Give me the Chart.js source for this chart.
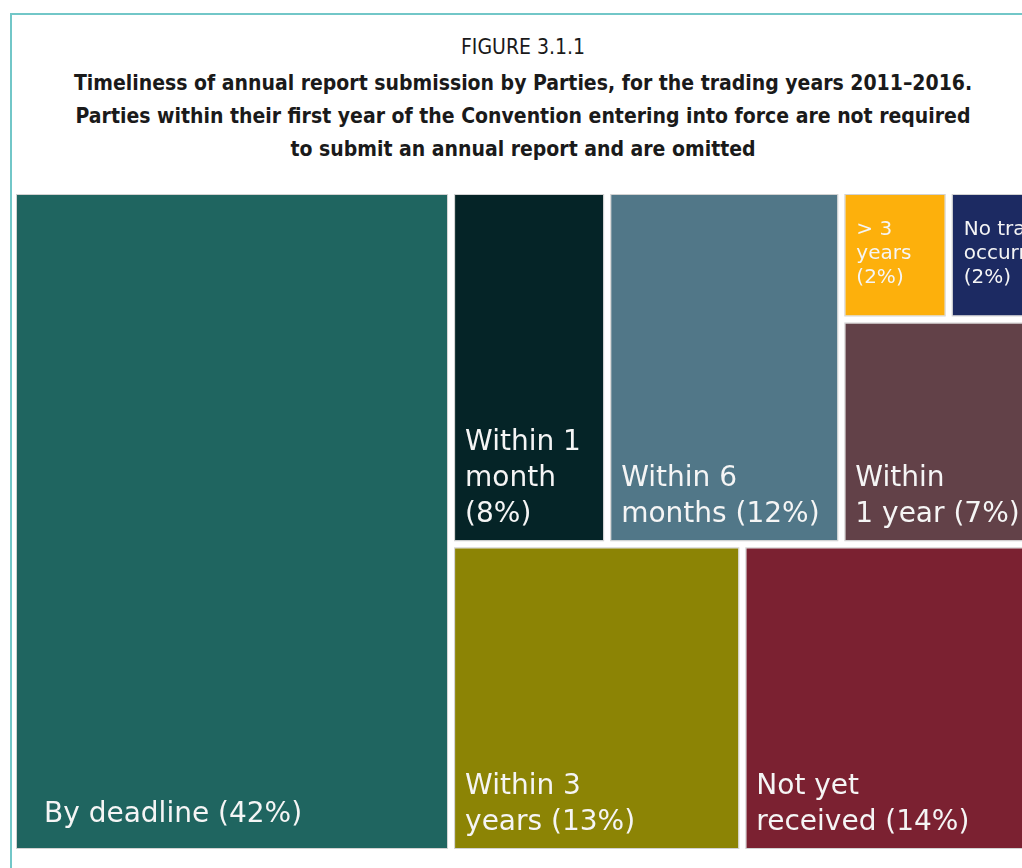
<!DOCTYPE html>
<html>
<head>
<meta charset="utf-8">
<script src="https://cdn.jsdelivr.net/npm/chart.js@4"></script>
<style>
  html, body { margin: 0; padding: 0; background: #fff; overflow: hidden; }
  body { width: 1022px; height: 868px; position: relative; }
  #frame {
    position: absolute; left: 10px; top: 13px; width: 1100px; height: 900px;
    border-left: 2px solid #72c7c8; border-top: 2px solid #72c7c8;
  }
  #title {
    position: absolute; left: 10px; top: 33px; width: 1026px; text-align: center;
    font-family: "Liberation Sans Narrow", "DejaVu Sans Condensed", "Open Sans", sans-serif;
    font-stretch: condensed; color: #1a1a1a;
  }
  #title .fig { font-size: 21px; line-height: 28px; }
  #title .main { font-size: 21px; line-height: 33px; font-weight: bold; margin-top: 6px; }
  #wrap { position: absolute; left: 0; top: 0; width: 1070px; height: 868px; }
</style>
</head>
<body>
<div id="frame"></div>
<div id="title">
  <div class="fig">FIGURE 3.1.1</div>
  <div class="main">Timeliness of annual report submission by Parties, for the trading years 2011–2016.<br>
  Parties within their first year of the Convention entering into force are not required<br>
  to submit an annual report and are omitted</div>
</div>
<div id="wrap"><canvas id="treemap"></canvas></div>
<script>
// Submission timeliness categories and their share of reports (%)
const categories = [
  "By deadline",
  "Within 1 month",
  "Within 6 months",
  "> 3 years",
  "No trade occurred",
  "Within 1 year",
  "Within 3 years",
  "Not yet received",
];
const shares = [42, 8, 12, 2, 2, 7, 13, 14];

// words per line for each tile label (label = category + " (share%)")
const labelWrap = [[3], [2, 1, 1], [2, 2], [2, 1, 1], [2, 1, 1], [1, 3], [2, 2], [2, 2]];

const colors = [
  "#1f6560", // By deadline
  "#052427", // Within 1 month
  "#517788", // Within 6 months
  "#fdb00c", // > 3 years
  "#1c2a62", // No trade occurred
  "#624148", // Within 1 year
  "#8c8405", // Within 3 years
  "#7b2131", // Not yet received
];

// the wide first tile sets its label further in from the corner
const labelOffset = { 0: { x: 27, bottom: 26 } };

// Tile arrangement: "x" splits side by side, "y" stacks top to bottom.
// Leaves are indexes into categories; sizes come from shares.
const arrangement = ["x", [
  0,
  ["y", [
    ["x", [1, 2, ["y", [["x", [3, 4]], 5]]]],
    ["x", [6, 7]],
  ]],
]];

function nodeWeight(node) {
  if (typeof node === "number") return shares[node];
  return node[1].reduce((sum, child) => sum + nodeWeight(child), 0);
}

// Slice a rectangle (in value units 0..100) among the children by weight
function layout(node, x0, y0, x1, y1, out) {
  if (typeof node === "number") {
    out.push({ x: (x0 + x1) / 2, y: (y0 + y1) / 2, x0, y0, x1, y1, i: node });
    return out;
  }
  const dir = node[0];
  const total = nodeWeight(node);
  let pos = dir === "x" ? x0 : y0;
  node[1].forEach((child) => {
    const frac = nodeWeight(child) / total;
    if (dir === "x") {
      const w = (x1 - x0) * frac;
      layout(child, pos, y0, pos + w, y1, out);
      pos += w;
    } else {
      const h = (y1 - y0) * frac;
      layout(child, x0, pos, x1, pos + h, out);
      pos += h;
    }
  });
  return out;
}

const tiles = layout(arrangement, 0, 0, 100, 100, []);

function labelLines(i) {
  const words = (categories[i] + " (" + shares[i] + "%)").split(" ");
  const lines = [];
  let k = 0;
  labelWrap[i].forEach((n) => {
    lines.push(words.slice(k, k + n).join(" "));
    k += n;
  });
  return lines;
}

// Draws each tile as a rectangle through the x/y scales, with its label
const treemapTiles = {
  id: "treemapTiles",
  afterDatasetsDraw(chart) {
    const ctx = chart.ctx;
    const xs = chart.scales.x;
    const ys = chart.scales.y;
    const gap = 4;
    chart.data.datasets[0].data.forEach((t) => {
      const left = xs.getPixelForValue(t.x0) + gap;
      const right = xs.getPixelForValue(t.x1) - gap;
      const top = ys.getPixelForValue(t.y0) + gap;
      const bottom = ys.getPixelForValue(t.y1) - gap;
      ctx.save();
      ctx.fillStyle = colors[t.i];
      ctx.fillRect(left, top, right - left, bottom - top);
      ctx.strokeStyle = "#d2d2d2";
      ctx.lineWidth = 1;
      ctx.strokeRect(left - 0.5, top - 0.5, right - left + 1, bottom - top + 1);

      // small tiles: label hangs from the top; others sit at the bottom
      const small = bottom - top < 150;
      const size = small ? 20 : 28;
      const lineH = small ? 24 : 36;
      const lines = labelLines(t.i);
      const off = labelOffset[t.i] || {};
      const padX = off.x !== undefined ? off.x : (small ? 11 : 10);
      const padB = off.bottom !== undefined ? off.bottom : 18;
      ctx.fillStyle = "#f5f5f5";
      ctx.font = size + "px 'DejaVu Sans', Verdana, sans-serif";
      ctx.textAlign = "left";
      ctx.textBaseline = "alphabetic";
      lines.forEach((line, n) => {
        const yb = small
          ? top + 40 + n * lineH
          : bottom - padB - (lines.length - 1 - n) * lineH;
        ctx.fillText(line, left + padX, yb);
      });
      ctx.restore();
    });
  },
};

new Chart(document.getElementById("treemap"), {
  type: "scatter",
  data: {
    datasets: [
      {
        label: "Share of reports",
        data: tiles,
        pointRadius: 0,
        pointHoverRadius: 0,
      },
    ],
  },
  options: {
    responsive: true,
    maintainAspectRatio: false,
    animation: false,
    layout: {
      padding: { left: 13, right: 14, top: 191, bottom: 16 },
    },
    scales: {
      x: { type: "linear", min: 0, max: 100, display: false },
      y: { type: "linear", min: 0, max: 100, reverse: true, display: false },
    },
    plugins: {
      legend: { display: false },
      tooltip: { enabled: false },
    },
  },
  plugins: [treemapTiles],
});
</script>
</body>
</html>
